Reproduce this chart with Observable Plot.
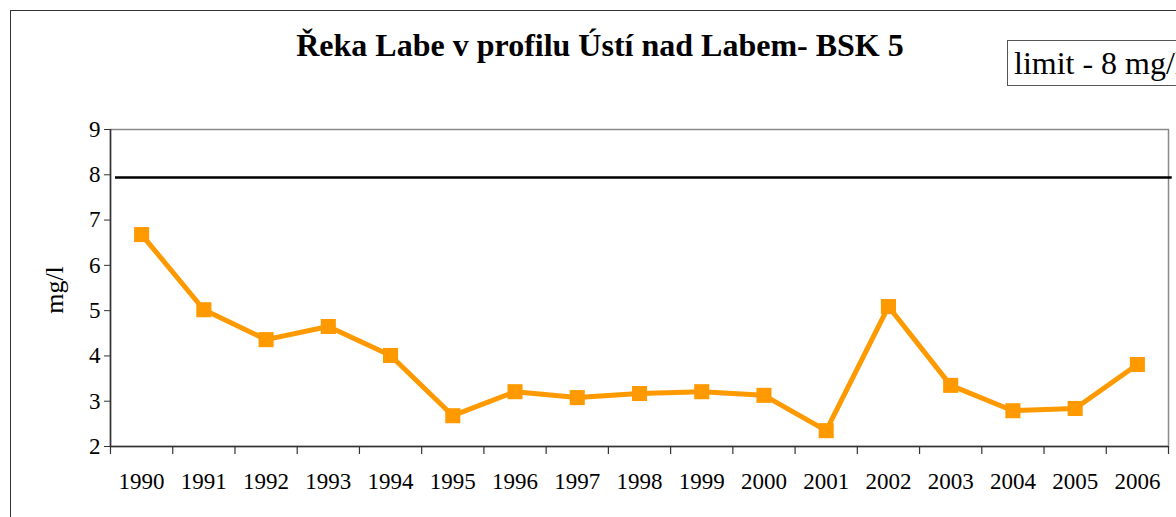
<!DOCTYPE html>
<html><head><meta charset="utf-8">
<script src="https://cdn.jsdelivr.net/npm/d3@7"></script>
<script src="https://cdn.jsdelivr.net/npm/@observablehq/plot@0.6"></script>
<style>
html,body{margin:0;padding:0;background:#fff;overflow:hidden}
#wrap{position:relative;width:1176px;height:517px;overflow:hidden;font-family:"Liberation Serif","Times New Roman",serif}
#frame{position:absolute;left:10px;top:10px;width:1300px;height:700px;border:1.5px solid #333;box-sizing:border-box}
#title{position:absolute;left:0;width:1200px;top:27px;text-align:center;font-weight:bold;font-size:32px;color:#000}
#legend{position:absolute;left:1007px;top:40px;height:46px;width:250px;border:1px solid #555;box-sizing:border-box;font-size:32px;padding-left:6px;line-height:44px;white-space:nowrap}
#ylab{position:absolute;left:55px;top:290px;transform:translate(-50%,-50%) rotate(-90deg);font-size:26px;white-space:nowrap}
#chart{position:absolute;left:0;top:0}
</style></head>
<body><div id="wrap"><div id="frame"></div><div id="title">Řeka Labe v profilu Ústí nad Labem- BSK 5</div><div id="legend">limit - 8 mg/l</div><div id="ylab">mg/l</div><div id="chart"></div></div>
<script>
const years = [1990,1991,1992,1993,1994,1995,1996,1997,1998,1999,2000,2001,2002,2003,2004,2005,2006];
const bsk5 = [6.68,5.02,4.36,4.65,4.01,2.68,3.21,3.08,3.17,3.21,3.13,2.35,5.09,3.35,2.79,2.84,3.81];
const limitValue = 7.94;
const yTicks = [2,3,4,5,6,7,8,9];

const data = years.map((y,i)=>({year:y, value:bsk5[i]}));
const bounds = years.map(y=>y-0.5).concat([years[years.length-1]+0.5]);
const x0 = years[0]-0.5, x1 = years[years.length-1]+0.5;

const plot = Plot.plot({
  width:1176, height:517,
  marginLeft:110, marginRight:8, marginTop:129, marginBottom:71,
  style:{fontFamily:'"Liberation Serif","Times New Roman",serif', background:"transparent", overflow:"visible"},
  x:{type:"linear", domain:[x0,x1]},
  y:{type:"linear", domain:[2,9]},
  marks:[
    Plot.frame({stroke:"#888", strokeWidth:1.5}),
    Plot.ruleY([limitValue], {stroke:"#000", strokeWidth:2.5, x1:x0+0.08, x2:x1+0.06}),
    Plot.line(data,{x:"year", y:"value", stroke:"#FF9900", strokeWidth:5}),
    Plot.dot(data,{x:"year", y:"value", symbol:"square", r:8.5, fill:"#FF9900", stroke:"none"}),
    Plot.ruleX([x0],{stroke:"#333", strokeWidth:1.5}),
    Plot.ruleY([2],{stroke:"#333", strokeWidth:1.5}),
    Plot.ruleX(bounds,{x:d=>d, y1:2, y2:2, insetBottom:-8, stroke:"#333", strokeWidth:1.2}),
    Plot.axisY({ticks:yTicks, tickSize:6, tickPadding:4, fontSize:23, fill:"#000", stroke:"#333", label:null, tickFormat:d=>String(d)}),
    Plot.axisX({ticks:years, tickSize:0, tickPadding:26, fontSize:23, fill:"#000", label:null, tickFormat:d=>String(d)}),
  ]
});
document.getElementById("chart").appendChild(plot);
</script></body></html>
